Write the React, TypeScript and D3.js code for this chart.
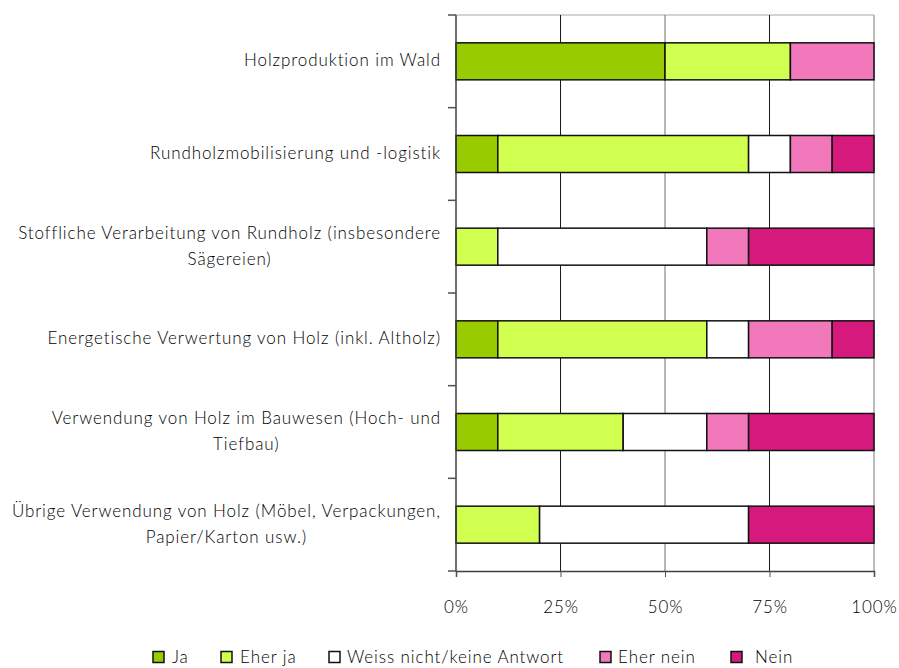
import { useEffect, useRef } from "react";
import * as d3 from "d3";

// categories (label lines as wrapped in the original)
const categories: string[][] = [
  ["Holzproduktion im Wald"],
  ["Rundholzmobilisierung und -logistik"],
  ["Stoffliche Verarbeitung von Rundholz (insbesondere", "Sägereien)"],
  ["Energetische Verwertung von Holz (inkl. Altholz)"],
  ["Verwendung von Holz im Bauwesen (Hoch- und", "Tiefbau)"],
  ["Übrige Verwendung von Holz (Möbel, Verpackungen,", "Papier/Karton usw.)"],
];

const seriesNames = ["Ja", "Eher ja", "Weiss nicht/keine Antwort", "Eher nein", "Nein"];
const seriesColors = ["#99cc00", "#d1ff4f", "#ffffff", "#f078bb", "#d6197c"];

// share in % per category
const ja = [50, 10, 0, 10, 10, 0];
const eherJa = [30, 60, 10, 50, 30, 20];
const weissNicht = [0, 10, 50, 10, 20, 50];
const eherNein = [20, 10, 10, 20, 10, 0];
const nein = [0, 10, 30, 10, 30, 30];

const xTicks = [0, 25, 50, 75, 100];

const legendX = [153, 221, 329, 600, 731];
const legendTextGap = [8, 8, 7, 7, 13];

const App = () => {
  const svgRef = useRef<SVGSVGElement | null>(null);

  useEffect(() => {
    if (!svgRef.current) return;
    const width = 899;
    const height = 668;
    const margin = { top: 15, right: 25, bottom: 97, left: 456 };
    const font = "Lato, 'Open Sans', sans-serif";
    const textColor = "#000";
    const fontSize = "17px";
    const spacing = "0.9px";

    const svg = d3.select(svgRef.current).attr("width", width).attr("height", height);
    svg.selectAll("*").remove();

    const x = d3.scaleLinear().domain([0, 100]).range([margin.left, width - margin.right]);
    const y = d3
      .scaleBand<number>()
      .domain(d3.range(categories.length))
      .range([margin.top, height - margin.bottom]);

    const rows = categories.map((_, i) => [ja[i], eherJa[i], weissNicht[i], eherNein[i], nein[i]]);
    const bandH = y.bandwidth();
    const bandTop = (i: number) => y(i) ?? 0;

    const styleText = (sel: d3.Selection<any, any, any, any>) =>
      sel
        .attr("fill", textColor)
        .style("font-family", font)
        .style("font-weight", 300)
        .style("font-size", fontSize)
        .style("letter-spacing", spacing);

    // plot border (top / right)
    svg
      .append("line")
      .attr("x1", x(0))
      .attr("x2", x(100))
      .attr("y1", margin.top)
      .attr("y2", margin.top)
      .attr("stroke", "#c4c4c4")
      .attr("stroke-width", 1.5);
    svg
      .append("line")
      .attr("x1", x(100))
      .attr("x2", x(100))
      .attr("y1", margin.top)
      .attr("y2", height - margin.bottom)
      .attr("stroke", "#a8a8a8")
      .attr("stroke-width", 1.5);

    // vertical grid
    svg
      .append("g")
      .selectAll("line")
      .data([25, 50, 75])
      .join("line")
      .attr("x1", (d) => x(d))
      .attr("x2", (d) => x(d))
      .attr("y1", margin.top)
      .attr("y2", height - margin.bottom)
      .attr("stroke", (d) => (d === 50 ? "#707070" : "#1a1a1a"))
      .attr("stroke-width", 1);

    // stacked bars
    const barH = 37;
    rows.forEach((vals, i) => {
      let acc = 0;
      const yc = bandTop(i) + bandH / 2;
      vals.forEach((v, k) => {
        if (v > 0) {
          svg
            .append("rect")
            .attr("x", x(acc))
            .attr("y", yc - barH / 2)
            .attr("width", x(acc + v) - x(acc))
            .attr("height", barH)
            .attr("fill", seriesColors[k])
            .attr("stroke", "#111")
            .attr("stroke-width", 1.5);
        }
        acc += v;
      });
    });

    // y axis with ticks between categories
    const yAxisG = svg.append("g");
    yAxisG
      .append("line")
      .attr("x1", x(0))
      .attr("x2", x(0))
      .attr("y1", margin.top)
      .attr("y2", height - margin.bottom)
      .attr("stroke", "#404040")
      .attr("stroke-width", 1.5);
    yAxisG
      .selectAll("line.tick")
      .data(d3.range(categories.length + 1))
      .join("line")
      .attr("class", "tick")
      .attr("x1", x(0) - 8)
      .attr("x2", x(0))
      .attr("y1", (d) => margin.top + d * bandH)
      .attr("y2", (d) => margin.top + d * bandH)
      .attr("stroke", "#505050")
      .attr("stroke-width", 1.5);

    // x axis
    const xAxis = svg
      .append("g")
      .attr("transform", `translate(0,${height - margin.bottom})`)
      .call(
        d3
          .axisBottom(x)
          .tickValues(xTicks)
          .tickSize(6)
          .tickPadding(24)
          .tickFormat((d) => `${d}%`)
      );
    xAxis.select(".domain").attr("stroke", "#404040").attr("stroke-width", 1.5);
    xAxis.selectAll(".tick line").attr("stroke", "#505050");
    styleText(xAxis.selectAll("text"));

    // category labels, lines centered within a right-aligned block
    const labelRight = 441;
    const lineH = 26;
    categories.forEach((lines, i) => {
      const g = svg.append("g");
      const yc = bandTop(i) + bandH / 2 - 1;
      const texts = lines.map((ln, j) =>
        styleText(
          g
            .append("text")
            .attr("y", yc + (j - (lines.length - 1) / 2) * lineH)
            .attr("dy", "0.35em")
            .attr("text-anchor", "middle")
            .text(ln)
        )
      );
      const widths = texts.map((t) => (t.node() as SVGTextElement).getComputedTextLength());
      const maxW = d3.max(widths) ?? 0;
      texts.forEach((t) => t.attr("x", labelRight - maxW / 2));
    });

    // legend
    const legendY = 657;
    const legend = svg.append("g");
    seriesNames.forEach((name, k) => {
      legend
        .append("rect")
        .attr("x", legendX[k])
        .attr("y", legendY - 5.5)
        .attr("width", 11)
        .attr("height", 11)
        .attr("fill", seriesColors[k])
        .attr("stroke", "#111")
        .attr("stroke-width", 1.5);
      styleText(
        legend
          .append("text")
          .attr("x", legendX[k] + 11 + legendTextGap[k])
          .attr("y", legendY)
          .attr("dy", "0.35em")
          .text(name)
      );
    });
  }, []);

  return (
    <svg
      ref={svgRef}
      style={{ display: "block", position: "absolute", left: 0, top: 0 }}
    ></svg>
  );
};

export default App;
